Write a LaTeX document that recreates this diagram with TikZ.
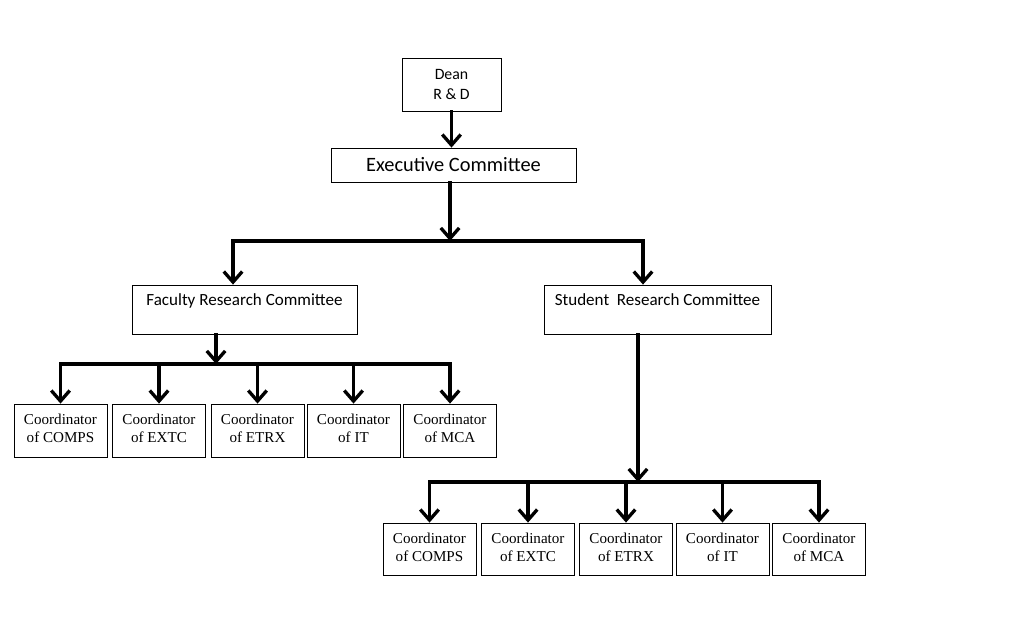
\documentclass[tikz,border=0pt]{standalone}
\usepackage{fontspec}
\setmainfont{Carlito}
\newfontfamily\timesfont{Liberation Serif}
\usetikzlibrary{arrows.meta}

\begin{document}
\begin{tikzpicture}[x=0.02cm, y=-0.02cm,
    caja/.style={draw, line width=0.45pt, inner sep=0pt},
    conn/.style={line width=1.9pt, line cap=rect},
    flecha/.style={line width=1.9pt, line cap=rect, -{Straight Barb[length=6pt, width=10.5pt]}},
    comite/.style={caja, minimum width=4.5cm, minimum height=0.98cm, text height=0.42cm, text depth=0.56cm, font=\fontsize{9.7}{11}\selectfont},
    coord/.style={caja, minimum width=1.86cm, minimum height=1.06cm},
    coordtxt/.style={anchor=north, align=center, inner sep=2pt, yshift=-3.5pt, font=\timesfont\fontsize{8.6}{10.2}\selectfont}]

    \useasboundingbox (0,0) rectangle (1012,621);

    % Cajas superiores
    \node[caja, minimum width=1.98cm, minimum height=1.06cm, align=center, font=\fontsize{9}{11.9}\selectfont] (dean) at (451.5,84.5) {Dean\\R \& D};
    \node[caja, minimum width=4.9cm, minimum height=0.68cm, font=\fontsize{11.6}{13}\selectfont] (exec) at (453.5,165) {Executive Committee};

    \node[comite] (frc) at (244.5,309.5) {Faculty Research Committee};
    \node[comite, minimum width=4.54cm] (src) at (657.5,309.5) {Student\ \ Research Committee};

    % Coordinadores (facultad)
    \node[coord, label={[coordtxt]north:Coordinator\\of COMPS}] (fc1) at (60.5,430.5) {};
    \node[coord, label={[coordtxt]north:Coordinator\\of EXTC}] (fc2) at (159,430.5) {};
    \node[coord, label={[coordtxt]north:Coordinator\\of ETRX}] (fc3) at (257.5,430.5) {};
    \node[coord, label={[coordtxt]north:Coordinator\\of IT}] (fc4) at (353.5,430.5) {};
    \node[coord, label={[coordtxt]north:Coordinator\\of MCA}] (fc5) at (450,430.5) {};

    % Coordinadores (estudiantes)
    \node[coord, minimum height=1.04cm, label={[coordtxt]north:Coordinator\\of COMPS}] (sc1) at (429.5,549) {};
    \node[coord, minimum height=1.04cm, label={[coordtxt]north:Coordinator\\of EXTC}] (sc2) at (528,549) {};
    \node[coord, minimum height=1.04cm, label={[coordtxt]north:Coordinator\\of ETRX}] (sc3) at (626,549) {};
    \node[coord, minimum height=1.04cm, label={[coordtxt]north:Coordinator\\of IT}] (sc4) at (722.5,549) {};
    \node[coord, minimum height=1.04cm, label={[coordtxt]north:Coordinator\\of MCA}] (sc5) at (819,549) {};

    % Puntos de las barras
    \coordinate (eBus) at (450,241);
    \coordinate (eL) at (233,241);
    \coordinate (eR) at (643,241);
    \coordinate (fBus) at (216,364);
    \coordinate (sBus) at (638,482);

    % Conexiones
    \draw[flecha] (dean.south) -- (dean.south |- exec.north);
    \draw[flecha] (eBus |- exec.south) -- (eBus);
    \draw[flecha] (eBus) -| (eL |- frc.north);
    \draw[flecha] (eBus) -| (eR |- src.north);

    \draw[flecha] (fBus |- frc.south) -- (fBus);
    \draw[conn] (fc1.north |- fBus) -- (fc5.north |- fBus);
    \draw[flecha] (fc1.north |- fBus) -- (fc1.north);
    \draw[flecha] (fc2.north |- fBus) -- (fc2.north);
    \draw[flecha] (fc3.north |- fBus) -- (fc3.north);
    \draw[flecha] (fc4.north |- fBus) -- (fc4.north);
    \draw[flecha] (fc5.north |- fBus) -- (fc5.north);

    \draw[flecha] (sBus |- src.south) -- (sBus);
    \draw[conn] (sc1.north |- sBus) -- (sc5.north |- sBus);
    \draw[flecha] (sc1.north |- sBus) -- (sc1.north);
    \draw[flecha] (sc2.north |- sBus) -- (sc2.north);
    \draw[flecha] (sc3.north |- sBus) -- (sc3.north);
    \draw[flecha] (sc4.north |- sBus) -- (sc4.north);
    \draw[flecha] (sc5.north |- sBus) -- (sc5.north);

\end{tikzpicture}
\end{document}
